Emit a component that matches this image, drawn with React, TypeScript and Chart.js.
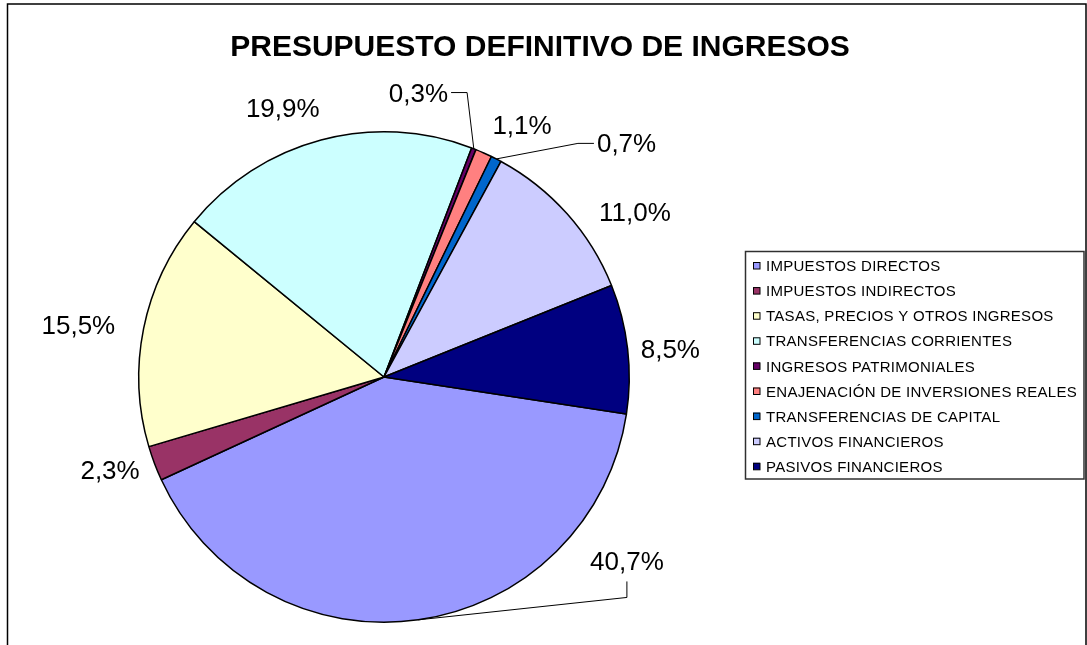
import React, { useEffect, useRef } from "react";
import { Chart, registerables } from "chart.js";

Chart.register(...registerables);

// ---------- data ----------
const chartTitle = "PRESUPUESTO DEFINITIVO DE INGRESOS";
const categories = [
  "IMPUESTOS DIRECTOS",
  "IMPUESTOS INDIRECTOS",
  "TASAS, PRECIOS Y OTROS INGRESOS",
  "TRANSFERENCIAS CORRIENTES",
  "INGRESOS PATRIMONIALES",
  "ENAJENACIÓN DE INVERSIONES REALES",
  "TRANSFERENCIAS DE CAPITAL",
  "ACTIVOS FINANCIEROS",
  "PASIVOS FINANCIEROS",
];
const shares = [40.7, 2.3, 15.5, 19.9, 0.3, 1.1, 0.7, 11.0, 8.5];

// ---------- styles ----------
const sliceColors = [
  "#9999FF",
  "#993366",
  "#FFFFCC",
  "#CCFFFF",
  "#660066",
  "#FF8080",
  "#0066CC",
  "#CCCCFF",
  "#000080",
];
// label nudges relative to the default outside position (pixels)
const labelNudges: [number, number][] = [
  [203, -97],
  [-7, -6],
  [-26, 6],
  [-28, 9],
  [-70, -17],
  [22, 10],
  [112, 21],
  [38, 27],
  [3, 7],
];
// which labels get a leader line and where it attaches
const leaderSides: (string | null)[] = [
  "bottom",
  null,
  null,
  null,
  "right",
  null,
  "left",
  null,
  null,
];

const FONT = "'Liberation Sans', Arial, sans-serif";

const fmt = (v: number) => v.toFixed(1).replace(".", ",") + "%";

const decorPlugin = {
  id: "decor",
  beforeDraw(chart: any) {
    const ctx = chart.ctx as CanvasRenderingContext2D;
    ctx.save();
    ctx.fillStyle = "#ffffff";
    ctx.fillRect(0, 0, chart.width, chart.height);
    // outer frame
    ctx.strokeStyle = "#000000";
    ctx.lineWidth = 1.5;
    ctx.strokeRect(7.5, 4, 1078.5, 700);
    // title
    ctx.fillStyle = "#000000";
    ctx.font = `bold 30px ${FONT}`;
    ctx.textAlign = "center";
    ctx.textBaseline = "middle";
    ctx.fillText(chartTitle, 540, 48);
    ctx.restore();
  },
  afterDatasetsDraw(chart: any) {
    const ctx = chart.ctx as CanvasRenderingContext2D;
    const meta = chart.getDatasetMeta(0);
    const values: number[] = chart.data.datasets[0].data;
    ctx.save();
    ctx.font = `26px ${FONT}`;
    ctx.textAlign = "center";
    ctx.textBaseline = "middle";
    meta.data.forEach((arc: any, i: number) => {
      const p = arc.getProps(["x", "y", "startAngle", "endAngle", "outerRadius"], true);
      const mid = (p.startAngle + p.endAngle) / 2;
      const dx = Math.cos(mid);
      const dy = Math.sin(mid);
      const lx = p.x + (p.outerRadius + 40) * dx + labelNudges[i][0];
      const ly = p.y + (p.outerRadius + 40) * dy + labelNudges[i][1];
      const text = fmt(values[i]);
      const w = ctx.measureText(text).width;
      const side = leaderSides[i];
      if (side) {
        const ax = p.x + p.outerRadius * dx;
        const ay = p.y + p.outerRadius * dy;
        let tx = lx, ty = ly, ex = lx, ey = ly;
        if (side === "bottom") {
          tx = lx; ty = ly + 19; ex = lx; ey = ly + 35;
        } else if (side === "right") {
          tx = lx + w / 2 + 3; ty = ly - 2; ex = tx + 16; ey = ty;
        } else {
          tx = lx - w / 2 - 3; ty = ly - 1; ex = tx - 16; ey = ty;
        }
        ctx.strokeStyle = "#000000";
        ctx.lineWidth = 1;
        ctx.beginPath();
        ctx.moveTo(ax, ay);
        ctx.lineTo(ex, ey);
        ctx.lineTo(tx, ty);
        ctx.stroke();
      }
      ctx.fillStyle = "#000000";
      ctx.fillText(text, lx, ly);
    });
    ctx.restore();

    // legend
    const labels: string[] = chart.data.labels;
    const colors: string[] = chart.data.datasets[0].backgroundColor;
    ctx.save();
    ctx.strokeStyle = "#303030";
    ctx.lineWidth = 1.5;
    ctx.strokeRect(745.5, 251.5, 338.5, 227.5);
    ctx.font = `15px ${FONT}`;
    (ctx as any).letterSpacing = "0.28px";
    ctx.textAlign = "left";
    ctx.textBaseline = "middle";
    labels.forEach((lab, i) => {
      const cy = 266 + i * 25.1;
      ctx.fillStyle = colors[i];
      ctx.fillRect(753, cy - 4, 7, 7);
      ctx.strokeStyle = "#000000";
      ctx.lineWidth = 1;
      ctx.strokeRect(753.5, cy - 3.5, 6.5, 6.5);
      ctx.fillStyle = "#000000";
      ctx.fillText(lab, 766, cy + 1);
    });
    ctx.restore();
  },
};

export default function App() {
  const ref = useRef<HTMLCanvasElement | null>(null);
  useEffect(() => {
    document.body.style.margin = "0";
    if (!ref.current) return;
    const chart = new Chart(ref.current, {
      type: "pie",
      data: {
        labels: categories,
        datasets: [
          {
            data: shares,
            backgroundColor: sliceColors,
            borderColor: "#000000",
            borderWidth: 1.5,
          },
        ],
      },
      options: {
        responsive: false,
        animation: false,
        rotation: 98.7,
        layout: { padding: { left: 138, right: 457, top: 131, bottom: 22 } },
        plugins: {
          legend: { display: false },
          tooltip: { enabled: false },
          title: { display: false },
        },
      },
      plugins: [decorPlugin],
    });
    return () => chart.destroy();
  }, []);
  return (
    <canvas
      ref={ref}
      width={1087}
      height={645}
      style={{ display: "block", width: 1087, height: 645 }}
    />
  );
}
